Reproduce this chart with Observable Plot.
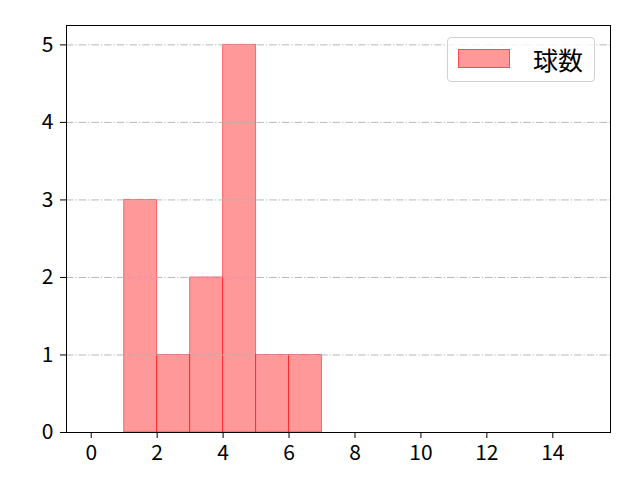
<!DOCTYPE html>
<html>
<head>
<meta charset="utf-8">
<script src="https://cdn.jsdelivr.net/npm/d3@7"></script>
<script src="https://cdn.jsdelivr.net/npm/@observablehq/plot@0.6"></script>
<style>
  html, body { margin: 0; padding: 0; background: #fff; }
  #wrap { position: relative; width: 640px; height: 480px; font-family: "Noto Sans CJK JP", "DejaVu Sans", sans-serif; }
  #legend { position: absolute; left: 447px; top: 37px; width: 148px; height: 45px; border: 1px solid #d0d0d0; border-radius: 4px; background: rgba(255,255,255,0.8); box-sizing: border-box; }
  #legend .patch { position: absolute; left: 10px; top: 11px; width: 52px; height: 19px; background: rgba(255,0,0,0.4); border: 1px solid rgba(255,0,0,0.5); box-sizing: border-box; }
  #legend .label { position: absolute; left: 85px; top: 4px; font-size: 25px; line-height: 34px; color: #000; }
</style>
</head>
<body>
<div id="wrap"></div>
<script>
const binStart = [1, 2, 3, 4, 5, 6];
const binEnd   = [2, 3, 4, 5, 6, 7];
const counts   = [3, 1, 2, 5, 1, 1];
const xTicks = [0, 2, 4, 6, 8, 10, 12, 14];
const yTicks = [0, 1, 2, 3, 4, 5];
const seriesName = "球数";

const bins = binStart.map((s, i) => ({x1: s, x2: binEnd[i], y: counts[i]}));

const plot = Plot.plot({
  width: 640,
  height: 480,
  marginLeft: 66,
  marginRight: 30,
  marginTop: 25,
  marginBottom: 48,
  style: {fontFamily: '"Noto Sans CJK JP", "DejaVu Sans", sans-serif', fontSize: "21px", background: "#fff", color: "#000"},
  x: {domain: [-0.75, 15.75], label: null},
  y: {domain: [0, 5.25], label: null},
  marks: [
    Plot.rectY(bins, {x1: "x1", x2: "x2", y: "y", fill: "rgba(255,0,0,0.4)", stroke: "rgba(255,0,0,0.5)", strokeWidth: 1, inset: 0}),
    Plot.ruleY(yTicks.filter(d => d > 0), {stroke: "#b0b0b0", strokeWidth: 0.9, strokeDasharray: "7.5,2,1.2,2"}),
    Plot.axisX({ticks: xTicks, tickSize: 6, tickPadding: 7, fontSize: 21, stroke: "#000", strokeOpacity: 1, tickFormat: d => String(d), label: null}),
    Plot.axisY({ticks: yTicks, tickSize: 6, tickPadding: 7, fontSize: 21, stroke: "#000", strokeOpacity: 1, tickFormat: d => String(d), label: null}),
    Plot.frame({stroke: "#000", strokeWidth: 1})
  ]
});
const wrap = document.getElementById("wrap");
wrap.appendChild(plot);
const lg = document.createElement("div");
lg.id = "legend";
lg.innerHTML = `<div class="patch"></div><div class="label">${seriesName}</div>`;
wrap.appendChild(lg);
</script>
</body>
</html>
